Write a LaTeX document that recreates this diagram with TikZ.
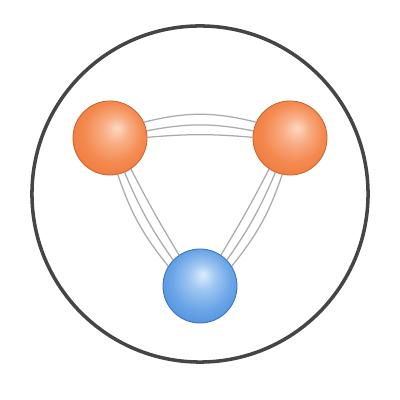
\documentclass[tikz,border=0pt]{standalone}
\definecolor{ohi}{HTML}{FDD9C3}
\definecolor{omid}{HTML}{F48A50}
\definecolor{odark}{HTML}{EE7436}
\definecolor{oedge}{HTML}{C8642D}
\definecolor{bhi}{HTML}{DDEEFC}
\definecolor{bmid}{HTML}{6CA6E8}
\definecolor{bdark}{HTML}{4787DA}
\definecolor{bedge}{HTML}{3A72B6}
\definecolor{linkc}{HTML}{ABABAB}
\definecolor{ringc}{HTML}{454545}
\pgfdeclareradialshading{oball}{\pgfpoint{5bp}{7bp}}{color(0bp)=(ohi); color(9bp)=(omid!55!ohi); color(20bp)=(omid); color(34bp)=(odark); color(40bp)=(odark)}
\pgfdeclareradialshading{bball}{\pgfpoint{2bp}{8bp}}{color(0bp)=(bhi); color(9bp)=(bmid!55!bhi); color(20bp)=(bmid); color(34bp)=(bdark); color(40bp)=(bdark)}
\begin{document}
\begin{tikzpicture}[x=0.025cm,y=0.025cm,
  ball/.style={circle, minimum size=1.85cm, inner sep=0pt, line width=0.6pt},
  link/.style={draw=linkc, line width=0.9pt}]
\useasboundingbox (0,0) rectangle (400,400);
\node (ring) [circle, draw=ringc, line width=2.5pt, minimum size=8.4cm, inner sep=0pt] at (200,206) {};
\node (L) [ball, shading=oball, draw=oedge] at (110,262) {};
\node (R) [ball, shading=oball, draw=oedge] at (290,262) {};
\node (B) [ball, shading=bball, draw=bedge] at (200,114) {};
\draw[link] (L.25) to[bend left=14] (R.155);
\draw[link] (L.11) to[bend left=11] (R.169);
\draw[link] (L.1) to[bend left=5] (R.179);
\draw[link] (L.-78) to[bend right=10] (B.148);
\draw[link] (L.-67) to[bend right=6] (B.136);
\draw[link] (L.-56) to[bend right=2] (B.124);
\draw[link] (R.-102) to[bend left=10] (B.32);
\draw[link] (R.-113) to[bend left=6] (B.44);
\draw[link] (R.-124) to[bend left=2] (B.56);
\end{tikzpicture}
\end{document}
